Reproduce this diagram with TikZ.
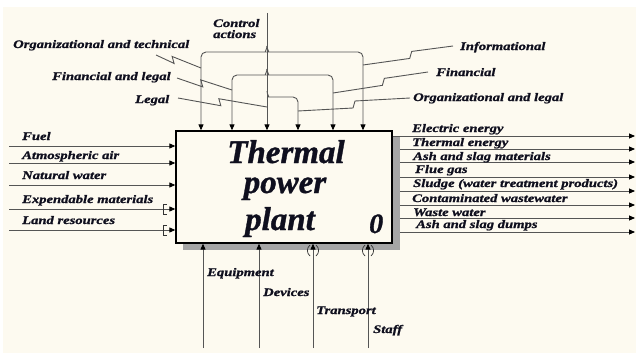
\documentclass[tikz,border=0pt]{standalone}
\usepackage{fontspec}
\usetikzlibrary{arrows.meta,calc}
\newfontfamily\lblfont{Liberation Serif}[FakeStretch=1.27,FakeBold=1.2]
\newfontfamily\ttlfont{Liberation Serif}[FakeBold=1]
\definecolor{cream}{RGB}{253,250,240}
\definecolor{conncol}{RGB}{85,85,85}
\definecolor{shadowcol}{RGB}{165,165,165}
\definecolor{txtcol}{RGB}{15,15,30}
\begin{document}
\begin{tikzpicture}[x=1pt,y=-1pt,
  lbl/.style={font=\lblfont\bfseries\itshape\fontsize{11.5}{13}\selectfont, text=txtcol, anchor=base west, inner sep=0pt},
  ttl/.style={font=\ttlfont\bfseries\itshape\fontsize{33}{36}\selectfont, text=txtcol, anchor=base, inner sep=0pt},
  conn/.style={draw=conncol, line width=0.9pt},
  arr/.style={-{Triangle[length=6pt,width=5pt,color=black]}},
  tunnel/.style={draw=black!80, line width=0.7pt},
  squigL/.style={to path={-- ($(\tikztostart)!#1!(\tikztotarget)+(1,3.5)$) -- ($(\tikztostart)!#1!(\tikztotarget)+(-1,-3.5)$) -- (\tikztotarget)}},
  squigL/.default=0.47,
  squigR/.style={to path={-- ($(\tikztostart)!#1!(\tikztotarget)+(1,-3.5)$) -- ($(\tikztostart)!#1!(\tikztotarget)+(-1,3.5)$) -- (\tikztotarget)}},
  squigR/.default=0.47
]
\useasboundingbox (0,0) rectangle (636,353);
\fill[white] (0,0) rectangle (636,353);
\fill[cream] (3,7) rectangle (636,353);

% output lines (under the shadow)
\foreach \n/\y in {1/136,2/149,3/162,4/177,5/191,6/205,7/218,8/232}{
  \coordinate (out\n) at (635,\y);
}
\foreach \n in {1,...,8}{
  \draw[conn,arr] (out\n -| 392,0) -- (out\n);
}

% shadow
\fill[shadowcol] (392,137) rectangle (400,250);
\fill[shadowcol] (183,243) rectangle (400,250);

% main box
\node[draw=black, line width=1.3pt, fill=cream, minimum width=216pt, minimum height=112pt, inner sep=0pt] (plant) at (284,187) {};
\node[ttl] (t1) at (286,163) {Thermal};
\node[ttl] (t2) at (285,193) {power};
\node[ttl] (t3) at (280,230) {plant};
\node[font=\ttlfont\bfseries\itshape\fontsize{28}{30}\selectfont, text=txtcol, anchor=base west, inner sep=0pt] (num) at (369,233) {0};

% inputs
\foreach \n/\y in {1/146,2/163,3/185,4/209,5/230}{
  \coordinate (in\n) at (9,\y);
  \draw[conn,arr] (in\n) -- (in\n -| plant.west);
}
\node[lbl] (lfuel) at (22,140) {Fuel};
\node[lbl] (lair) at (22,159) {Atmospheric air};
\node[lbl] (lwater) at (22,179) {Natural water};
\node[lbl] (lexp) at (22,203) {Expendable materials};
\node[lbl] (lland) at (22,224) {Land resources};
% tunnels on inputs
\draw[tunnel] (167,204) -- (163,204) -- (163,214) -- (167,214);
\draw[tunnel] (167,225) -- (163,225) -- (163,235) -- (167,235);

% output labels
\node[lbl] (o1) at (412,132) {Electric energy};
\node[lbl] (o2) at (412,146) {Thermal energy};
\node[lbl] (o3) at (413,160) {Ash and slag materials};
\node[lbl] (o4) at (415,173) {Flue gas};
\node[lbl] (o5) at (413,187) {Sludge (water treatment products)};
\node[lbl] (o6) at (412,202) {Contaminated wastewater};
\node[lbl] (o7) at (413,216) {Waste water};
\node[lbl] (o8) at (416,228) {Ash and slag dumps};

% mechanisms
\foreach \n/\x in {1/203,2/259,3/313,4/368}{
  \coordinate (m\n) at (\x,348);
  \draw[conn,arr] (m\n) -- (m\n |- plant.south);
}
\foreach \x in {313,368}{
  \draw[tunnel] (\x-3,245) .. controls (\x-6.5,248) and (\x-6.5,253) .. (\x-3,256);
  \draw[tunnel] (\x+3,245) .. controls (\x+6.5,248) and (\x+6.5,253) .. (\x+3,256);
}
\node[lbl] (lequip) at (207,276) {Equipment};
\node[lbl] (ldev) at (263,296) {Devices};
\node[lbl] (ltrans) at (316,314) {Transport};
\node[lbl] (lstaff) at (373,333) {Staff};

% controls
\coordinate (ctop) at (267,13);
\foreach \n/\x in {1/201,2/232,3/267,4/298,5/333,6/363}{
  \coordinate (c\n) at (\x,131);
}
\draw[conn,arr] (ctop) -- (c3 |- plant.north);
\draw[conn,arr,rounded corners=5pt] (267,46) to[out=-90,in=0] (261,52) -- (201,52) -- (c1 |- plant.north);
\draw[conn,arr,rounded corners=5pt] (267,46) to[out=-90,in=180] (273,52) -- (363,52) -- (c6 |- plant.north);
\draw[conn,arr,rounded corners=5pt] (267,69) to[out=-90,in=0] (261,75) -- (232,75) -- (c2 |- plant.north);
\draw[conn,arr,rounded corners=5pt] (267,69) to[out=-90,in=180] (273,75) -- (333,75) -- (c5 |- plant.north);
\draw[conn,arr,rounded corners=5pt] (267,91) to[out=-90,in=180] (273,97) -- (298,97) -- (c4 |- plant.north);

\node[lbl] (lctl1) at (213,27) {Control};
\node[lbl] (lctl2) at (213,38) {actions};

% left control labels and squiggles
\node[lbl] (lorgt) at (13,48) {Organizational and technical};
\node[lbl] (lfinl) at (52,80) {Financial and legal};
\node[lbl] (llegal) at (135,103) {Legal};
\coordinate (s1a) at (156,55);  \coordinate (s1b) at (201,68);
\coordinate (s2a) at (177,78);  \coordinate (s2b) at (232,90);
\coordinate (s3a) at (178,98);  \coordinate (s3b) at (267,107);
\draw[conn, squigL=0.38] (s1a) to (s1b);
\draw[conn, squigL=0.45] (s2a) to (s2b);
\draw[conn, squigL] (s3a) to (s3b);

% right control labels and squiggles
\node[lbl] (linfo) at (460,50) {Informational};
\node[lbl] (lfin) at (436,76) {Financial};
\node[lbl] (lorgl) at (413,101) {Organizational and legal};
\coordinate (s4a) at (453,46);  \coordinate (s4b) at (363,65);
\coordinate (s5a) at (428,72);  \coordinate (s5b) at (333,93);
\coordinate (s6a) at (410,98);  \coordinate (s6b) at (298,111);
\draw[conn, squigR] (s4a) to (s4b);
\draw[conn, squigR] (s5a) to (s5b);
\draw[conn, squigR=0.5] (s6a) to (s6b);
\end{tikzpicture}
\end{document}
